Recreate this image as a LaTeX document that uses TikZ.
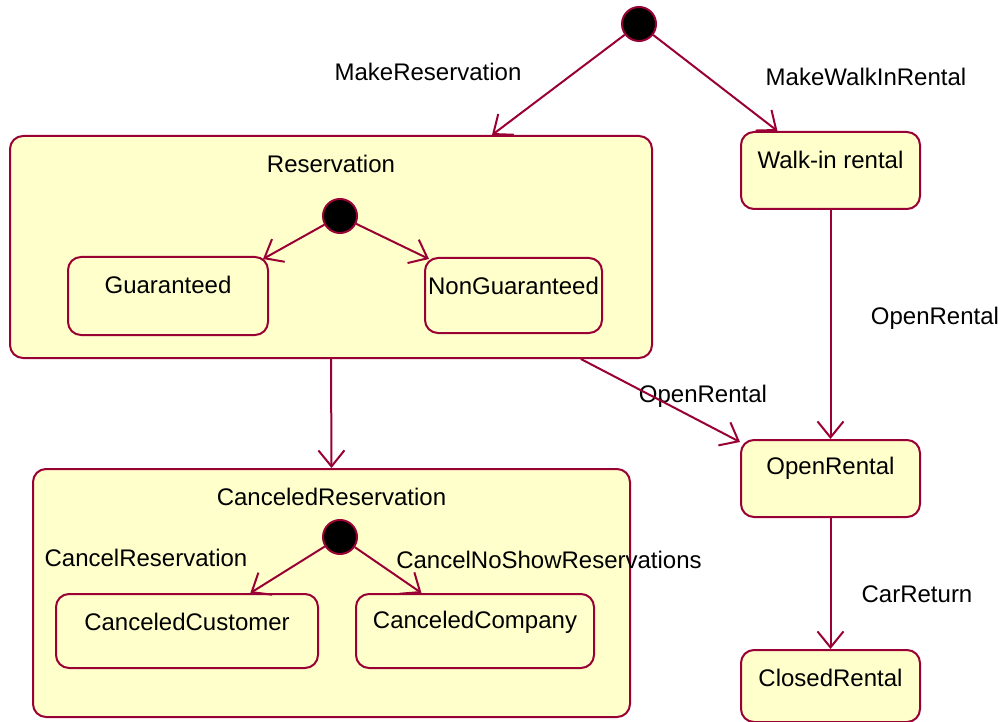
\documentclass[tikz,border=0pt]{standalone}
\usepackage{fontspec}
\setmainfont{Liberation Sans}
\usetikzlibrary{arrows.meta,calc}
\definecolor{UmlRed}{HTML}{990033}
\definecolor{UmlFill}{HTML}{FFFFCC}
\begin{document}
\begin{tikzpicture}[x=1pt,y=-1pt, every node/.style={font=\fontsize{24}{28}\selectfont}, st/.style={draw=UmlRed,fill=UmlFill,line width=2pt,rounded corners=13pt,inner sep=0pt}, init/.style={circle,draw=UmlRed,fill=black,line width=2pt,minimum size=34pt,inner sep=0pt}, a/.style={-{Straight Barb[length=16pt,width=26pt,line width=2pt]},UmlRed,line width=2pt}, lbl/.style={label={[anchor=center,yshift=-29pt]north:#1}}]
\useasboundingbox (0,0) rectangle (1002,722);
\node[st,minimum width=642pt,minimum height=222pt,lbl=Reservation] (res) at (331,247) {};
\node[st,minimum width=597pt,minimum height=248pt,lbl=CanceledReservation] (canc) at (331.5,593) {};
\node[init] (top) at (639,24) {};
\node[init] (rinit) at (340,216) {};
\node[init] (cinit) at (340,537) {};
\node[st,minimum width=200pt,minimum height=78pt,lbl=Guaranteed] (guar) at (168,296) {};
\node[st,minimum width=177pt,minimum height=75pt,lbl=NonGuaranteed] (nong) at (513.5,295.5) {};
\node[st,minimum width=179pt,minimum height=77pt,lbl=Walk-in rental] (walkin) at (830.5,170.5) {};
\node[st,minimum width=179pt,minimum height=77pt,lbl=OpenRental] (open) at (830.5,478.5) {};
\node[st,minimum width=179pt,minimum height=72pt,lbl=ClosedRental] (closed) at (830.5,686) {};
\node[st,minimum width=262pt,minimum height=74pt,lbl=CanceledCustomer] (ccust) at (187,631) {};
\node[st,minimum width=238pt,minimum height=74pt,lbl=CanceledCompany] (ccomp) at (475,631) {};
\node (l1) at (428,72) {MakeReservation};
\node (l2) at (866,77) {MakeWalkInRental};
\node (l3) at (703,396) {OpenRental};
\node (l4) at (935,318) {OpenRental};
\node (l5) at (917,594) {CarReturn};
\node (l6) at (146,558) {CancelReservation};
\node (l7) at (549,560) {CancelNoShowReservations};
\draw[a] (top) -- ($(res.north west)!0.750!(res.north east)$);
\draw[a] (top) -- ($(walkin.north west)!0.207!(walkin.north east)$);
\draw[a] (rinit) -- ([xshift=-6pt,yshift=-3pt]guar.north east);
\draw[a] (rinit) -- ([xshift=5pt,yshift=-2pt]nong.north west);
\draw[a] (res.south) -- (canc.north);
\draw[a] ($(res.south west)!0.888!(res.south east)$) -- ([yshift=-3pt]open.north west);
\draw[a] (walkin.south) -- (open.north);
\draw[a] (open.south) -- (closed.north);
\draw[a] (cinit) -- ($(ccust.north west)!0.74!(ccust.north east)$);
\draw[a] (cinit) -- ($(ccomp.north west)!0.277!(ccomp.north east)$);
\end{tikzpicture}
\end{document}
